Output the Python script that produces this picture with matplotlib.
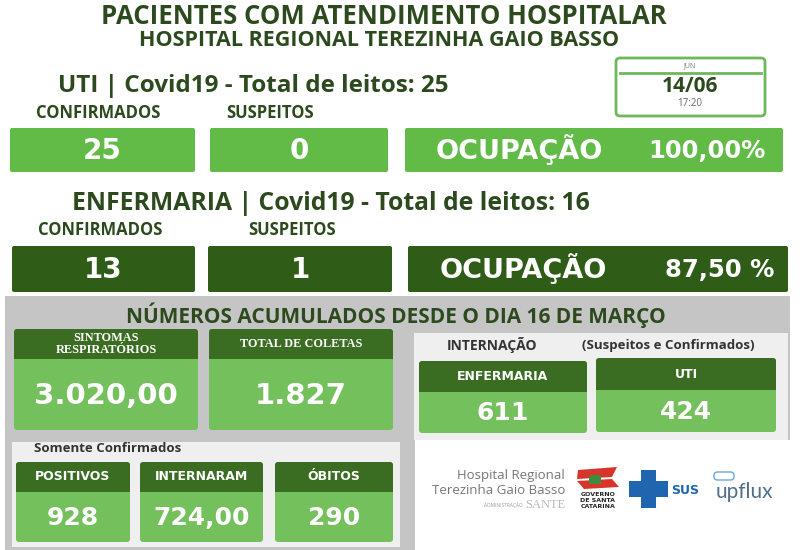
import matplotlib
matplotlib.use("Agg")
import matplotlib.pyplot as plt
from matplotlib.patches import FancyBboxPatch, Rectangle, Polygon

# ---- data ----
uti_total = 25
uti_labels = ["CONFIRMADOS", "SUSPEITOS"]
uti_values = [25, 0]
uti_ocup = "100,00%"

enf_total = 16
enf_labels = ["CONFIRMADOS", "SUSPEITOS"]
enf_values = [13, 1]
enf_ocup = "87,50 %"

acum_labels = ["SINTOMAS\nRESPIRATÓRIOS", "TOTAL DE COLETAS"]
acum_values = ["3.020,00", "1.827"]

intern_labels = ["ENFERMARIA", "UTI"]
intern_values = ["611", "424"]

conf_labels = ["POSITIVOS", "INTERNARAM", "ÓBITOS"]
conf_values = ["928", "724,00", "290"]

date_month = "JUN"
date_day = "14/06"
date_time = "17:20"

# ---- colours ----
DARK_TXT = "#2c4a1d"
LIGHT_G = "#62bb47"
DARK_G = "#2f5c16"
HEAD_G = "#3a6c22"
BODY_G = "#74c05c"
GRAY = "#c5c5c5"
PANEL = "#efefef"

TF = "Open Sans"
NF = "DejaVu Sans"

fig = plt.figure(figsize=(8, 5.5), dpi=100)
ax = fig.add_axes([0, 0, 1, 1])
ax.set_xlim(0, 800)
ax.set_ylim(550, 0)
ax.axis("off")


def box(x0, y0, x1, y1, color, r=2, z=2, **kw):
    p = FancyBboxPatch((x0, y0), x1 - x0, y1 - y0,
                       boxstyle=f"round,pad=0,rounding_size={r}",
                       fc=color, ec="none", zorder=z, **kw)
    ax.add_patch(p)


def txt(x, y, s, size, color=DARK_TXT, family=TF, weight="bold", ha="center", **kw):
    ax.text(x, y, s, fontsize=size, color=color, family=family, fontweight=weight,
            ha=ha, va="center", zorder=5, **kw)


# header
txt(384, 17, "PACIENTES COM ATENDIMENTO HOSPITALAR", 18.5)
txt(379, 41, "HOSPITAL REGIONAL TEREZINHA GAIO BASSO", 15.5)

# date card
box(616, 58, 765, 116, "white", r=4, z=2)
ax.add_patch(FancyBboxPatch((616, 58), 149, 58, boxstyle="round,pad=0,rounding_size=4",
                            fc="none", ec="#6cb85b", lw=2, zorder=3))
txt(690, 66, date_month, 5, color="#777777", weight="normal")
ax.plot([620, 761], [73, 73], color="#6cb85b", lw=2, zorder=3)
txt(690, 86, date_day, 15, color=DARK_TXT)
txt(690, 104, date_time, 7, color="#666666", weight="normal")

# UTI block
txt(58, 86, f"UTI | Covid19 - Total de leitos: {uti_total}", 17.5, ha="left")
lab_x = [98, 270]
for lx, lab in zip(lab_x, uti_labels):
    txt(lx, 113, lab, 12)
val_boxes = [(10, 195), (210, 388)]
for (x0, x1), v in zip(val_boxes, uti_values):
    box(x0, 128, x1, 172, LIGHT_G)
    txt((x0 + x1) / 2, 151, str(v), 20, color="white", family=NF)
box(405, 128, 783, 172, LIGHT_G)
txt(519, 150, "OCUPAÇÃO", 19.5, color="white", family=NF)
txt(707, 151, uti_ocup, 17.5, color="white", family=NF)

# ENFERMARIA block
txt(72, 203, f"ENFERMARIA | Covid19 - Total de leitos: {enf_total}", 17.8, ha="left")
lab_x = [100, 292]
for lx, lab in zip(lab_x, enf_labels):
    txt(lx, 230, lab, 12)
val_boxes = [(12, 195), (208, 392)]
for (x0, x1), v in zip(val_boxes, enf_values):
    box(x0, 246, x1, 292, DARK_G)
    txt((x0 + x1) / 2, 270, str(v), 20, color="white", family=NF)
box(408, 246, 788, 292, DARK_G)
txt(523, 269, "OCUPAÇÃO", 19.5, color="white", family=NF)
txt(720, 270, enf_ocup, 17.5, color="white", family=NF)

# accumulated panel
ax.add_patch(Polygon([(5, 296), (790, 296), (790, 440), (415, 440), (415, 550), (5, 550)],
                     closed=True, fc=GRAY, ec="none", zorder=1))
txt(396, 315, "NÚMEROS ACUMULADOS DESDE O DIA 16 DE MARÇO", 15)


def card(x0, x1, y0, yh, y1, label, value, lsize, vsize, lfam=NF):
    box(x0, y0, x1, y1, BODY_G, r=3)
    box(x0, y0, x1, yh, HEAD_G, r=3, z=3)
    ax.add_patch(Rectangle((x0, yh - 4), x1 - x0, 4, fc=HEAD_G, ec="none", zorder=3))
    txt((x0 + x1) / 2, (y0 + yh) / 2, label, lsize, color="white",
        family=lfam, linespacing=0.95)
    txt((x0 + x1) / 2, (yh + y1) / 2 + 1, value, vsize, color="white", family=NF)


acum_x = [(14, 198), (209, 393)]
for (x0, x1), lab, v in zip(acum_x, acum_labels, acum_values):
    card(x0, x1, 329, 359, 430, lab, v, 8.8, 21, lfam="Liberation Serif")

# internacao sub-panel
ax.add_patch(Rectangle((414, 333), 374, 107, fc=PANEL, ec="none", zorder=1.5))
txt(492, 345, "INTERNAÇÃO", 10, color="#333333")
txt(668, 345, "(Suspeitos e Confirmados)", 9.5, color="#333333")
intern_box = [(419, 587, 361, 392, 433), (596, 776, 358, 390, 432)]
for (x0, x1, y0, yh, y1), lab, v in zip(intern_box, intern_labels, intern_values):
    card(x0, x1, y0, yh, y1, lab, v, 9, 18)

# confirmed-only sub-panel
ax.add_patch(Rectangle((12, 442), 388, 105, fc=PANEL, ec="none", zorder=1.5))
txt(34, 449, "Somente Confirmados", 9.5, color="#333333", ha="left")
conf_x = [(16, 130), (140, 263), (275, 393)]
for (x0, x1), lab, v in zip(conf_x, conf_labels, conf_values):
    card(x0, x1, 462, 492, 542, lab, v, 9, 18)

# logos (approximate)
txt(565, 475, "Hospital Regional", 9.5, color="#777777", weight="normal", ha="right")
txt(565, 490, "Terezinha Gaio Basso", 9.5, color="#777777", weight="normal", ha="right")
txt(523, 505, "ADMINISTRAÇÃO", 3.5, color="#999999", weight="normal", ha="right")
txt(565, 505, "SANTE", 9, color="#b8b8b8", weight="normal", ha="right", family="Liberation Serif")
ax.add_patch(Polygon([(578, 470), (617, 467), (612, 477), (577, 479)], fc="#d9342b", ec="none", zorder=4))
ax.add_patch(Polygon([(577, 481), (612, 479), (619, 487), (584, 489)], fc="#d9342b", ec="none", zorder=4))
ax.add_patch(Rectangle((589, 475), 12, 9, fc="#3d8b3d", ec="none", zorder=4))
for i, w in enumerate(["GOVERNO", "DE SANTA", "CATARINA"]):
    txt(598, 494 + i * 6.5, w, 4.5, color="#222222", family=NF)
ax.add_patch(Rectangle((629, 481), 39, 16, fc="#1f65b0", ec="none", zorder=4))
ax.add_patch(Rectangle((641, 470), 15, 38, fc="#1f65b0", ec="none", zorder=4))
txt(685, 490, "SUS", 9, color="#1f65b0", family=NF)
txt(744, 492, "upflux", 15, color="#4f6f8c", weight="normal", family="Lato")
ax.add_patch(FancyBboxPatch((714, 472), 20, 8, boxstyle="round,pad=0,rounding_size=3.5",
                            fc="none", ec="#6aa6d6", lw=1, zorder=4))

fig.savefig("out.png", dpi=100, facecolor="white")
